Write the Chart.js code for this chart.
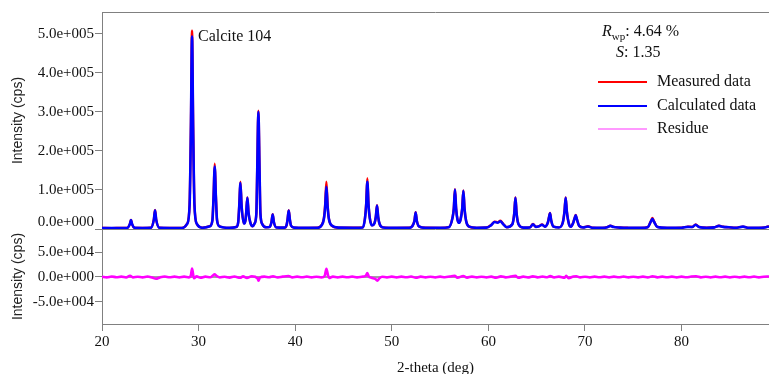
<!DOCTYPE html>
<html><head><meta charset="utf-8">
<script src="https://cdn.jsdelivr.net/npm/chart.js@4.4.1/dist/chart.umd.min.js"></script>
<style>html,body{margin:0;padding:0;background:#fff;}canvas{display:block;}</style>
</head><body>
<canvas id="c" width="769" height="374"></canvas>
<script>
// ---- Data ----
const twoTheta = [20.0,21.0,22.0,22.6,22.88,23.0,23.12,23.4,24.2,25.05,25.37,25.49,25.61,25.95,27.0,28.3,28.82,29.07,29.2,29.32,29.44,29.57,29.82,30.4,31.17,31.43,31.55,31.67,31.79,31.91,32.17,33.2,33.9,34.1,34.21,34.33,34.45,34.69,34.85,34.93,35.05,35.17,35.35,35.6,35.8,35.98,36.07,36.19,36.31,36.4,36.6,37.0,37.35,37.55,37.67,37.79,38.05,38.9,39.1,39.21,39.33,39.45,39.56,39.9,41.0,42.3,42.75,42.98,43.1,43.23,43.36,43.48,43.75,44.5,46.0,47.0,47.23,47.35,47.47,47.59,47.72,47.95,48.2,48.35,48.47,48.59,48.75,49.1,50.5,51.8,52.12,52.35,52.47,52.59,52.82,53.5,55.0,55.9,56.3,56.42,56.54,56.66,56.8,56.97,57.12,57.29,57.41,57.53,57.7,58.0,58.8,59.8,60.3,60.65,60.95,61.24,61.55,61.9,62.48,62.68,62.8,62.92,63.12,63.6,64.3,64.62,64.9,65.25,65.55,65.85,66.15,66.26,66.38,66.5,66.75,67.3,67.7,67.88,68.0,68.12,68.35,68.55,68.8,68.92,69.04,69.16,69.4,69.8,70.31,70.8,71.8,72.3,72.63,72.95,73.6,74.5,75.8,76.5,76.8,76.98,77.16,77.5,78.5,80.0,80.66,81.1,81.46,81.8,82.6,83.4,83.87,84.3,84.9,85.6,86.36,86.9,88.0,88.6,89.05];
const calculated = [2500,2400,2500,2600,12000,23000,12000,2800,2600,3000,24000,48000,24000,3000,2700,2700,13000,62000,250000,493000,250000,62000,13000,3200,7000,22000,82000,160000,82000,22000,6500,3000,5000,17000,60000,118000,60000,14000,22000,42000,80000,42000,17000,7000,14000,40000,150000,300000,150000,40000,12000,4500,5000,18000,37000,18000,4000,3500,9000,24000,47000,24000,9000,3500,3000,3000,10000,27000,56000,108000,56000,27000,9500,3500,3200,4000,28000,62000,121000,62000,28000,9000,14000,31000,60000,31000,12000,4000,3000,3000,7000,21000,42000,21000,6500,3000,3000,4500,30000,52000,101000,52000,24000,16000,24000,52000,98000,52000,20000,6000,3200,3500,10000,18000,16000,20000,12000,4500,12000,40000,80000,40000,12000,3500,4000,12000,5500,7000,11000,6000,16000,28000,40000,22000,6000,4000,16000,45000,80000,45000,12000,6000,17000,27000,35000,25000,8000,4000,6500,3000,2800,4500,8000,5000,3500,2800,2800,4500,18000,26000,18000,5000,2800,3000,5500,5000,11000,5000,3000,4200,8000,5500,4500,3000,6000,3000,2800,4000,6500];
const measured = [2600,2300,2700,2500,12500,23500,11500,3000,2400,3200,25000,49000,24000,3300,2500,2900,14000,64000,255000,508000,256000,63000,13000,3500,7500,23000,86000,167000,85000,23000,7000,2800,5200,17500,61000,121000,60000,14500,22000,43000,81000,42000,17000,7200,14500,41000,153000,303000,151000,40000,12500,4300,5200,18500,38000,18000,4200,3300,9500,24500,48000,24000,9000,3600,2800,3200,10500,29000,62000,121000,60000,28000,9500,3300,3400,4200,30000,66000,130000,64000,29000,9500,14500,32000,61000,30500,11500,4200,2900,3200,7300,22000,43000,21000,6500,3100,2800,4700,31000,53000,102000,52000,24000,16500,24500,52500,99000,51000,20000,6200,3000,3700,10500,19000,17000,21000,12500,4300,12500,41000,81000,40000,12000,3600,4200,13000,5600,7500,11500,6200,16500,28500,41000,22000,6000,4200,16500,45500,81000,45000,12000,6200,17500,27500,36000,25000,8000,4200,7000,3200,2600,4800,8500,5300,3800,3000,2600,4800,19000,28000,19000,5200,2700,3200,6000,5200,11500,5200,3200,4400,8500,5700,4300,3100,6200,2900,3000,4200,7000];
const residueTheta = [20.0,20.5,21.0,21.5,22.0,22.5,22.9,23.2,23.7,24.2,24.7,25.2,25.6,26.0,26.5,27.0,27.5,28.0,28.5,29.0,29.2,29.32,29.42,29.52,29.8,30.2,30.7,31.2,31.5,31.65,31.85,32.2,32.7,33.2,33.7,34.3,34.6,35.0,35.5,36.1,36.2,36.35,36.8,37.3,37.7,38.2,38.7,39.3,39.7,40.2,40.7,41.2,41.7,42.2,42.7,43.05,43.23,43.38,43.5,43.9,44.4,44.9,45.4,45.9,46.4,46.9,47.3,47.47,47.6,47.9,48.3,48.5,48.7,49.0,49.5,50.0,50.5,51.0,51.5,52.0,52.5,53.0,53.5,54.0,54.5,55.0,55.5,56.0,56.5,56.8,57.4,57.8,58.3,58.8,59.3,59.8,60.3,60.8,61.3,61.8,62.3,62.8,63.1,63.6,64.1,64.6,65.1,65.6,66.1,66.4,66.8,67.3,67.9,68.05,68.3,68.8,69.1,69.5,70.0,70.5,71.0,71.5,72.0,72.5,73.0,73.5,74.0,74.5,75.0,75.5,76.0,76.5,77.0,77.5,78.0,78.5,79.0,79.5,80.0,80.5,81.0,81.5,82.0,82.5,83.0,83.5,84.0,84.5,85.0,85.5,86.0,86.5,87.0,87.5,88.0,88.5,89.05];
const residue = [500,-800,1000,-500,800,-1000,2500,-800,600,-700,900,-1200,-3500,-800,1000,-600,700,-900,800,-1000,3000,17000,7000,-2500,1200,-1500,800,-600,3500,5500,2500,-900,600,-1200,900,-1500,1200,-1800,1500,-2500,-7500,-1000,800,-600,1500,-900,700,2000,-800,700,-600,900,-700,600,-900,2000,16500,5000,-2000,800,-900,700,-600,900,-800,600,2500,8000,1500,-1500,-4000,-7500,-3000,500,-900,800,-1000,700,-600,900,-1500,700,-800,600,-900,800,-600,900,2500,-1500,2000,-1200,700,-800,600,-900,800,-1500,1200,-700,800,2200,-1500,700,-900,1200,-700,900,-600,1800,-900,700,-1500,2500,-2200,800,1500,-800,600,-900,700,-600,800,-900,700,-600,900,-700,600,-800,700,-900,1500,-800,700,-600,800,-900,700,-600,900,1400,-700,600,-900,800,-600,700,-900,600,-700,800,-600,900,-700,600,1000];
const xTickValues = [20,30,40,50,60,70,80];
const topTickValues = [0,100000,200000,300000,400000,500000];
const bottomTickValues = [-50000,0,50000];
const legendLabels = ['Measured data','Calculated data','Residue'];

const AXIS = '#808080';
const SERIF = '"Liberation Serif","Times New Roman",serif';
const SANS = '"Liberation Sans",Arial,sans-serif';

function sci(v){
  if (v === 0) return '0.0e+000';
  const s = v < 0 ? '-' : '';
  const a = Math.abs(v);
  const e = Math.floor(Math.log10(a) + 1e-9);
  const m = a / Math.pow(10, e);
  return s + m.toFixed(1) + 'e+' + String(e).padStart(3, '0');
}
const pts = (xs, ys) => xs.map((x, i) => ({x, y: ys[i]}));

const panelPlugin = {
  id: 'panels',
  beforeDatasetsDraw(chart){
    const {ctx, chartArea} = chart;
    const yt = chart.scales.yTop;
    ctx.save();
    ctx.strokeStyle = AXIS; ctx.lineWidth = 1;
    ctx.beginPath();
    ctx.moveTo(chartArea.left, Math.round(yt.bottom) + 0.5);
    ctx.lineTo(chartArea.right, Math.round(yt.bottom) + 0.5);
    ctx.moveTo(chartArea.left, Math.round(chartArea.top) + 0.5);
    ctx.lineTo(chartArea.right, Math.round(chartArea.top) + 0.5);
    ctx.stroke();
    ctx.restore();
  },
  afterDraw(chart){
    const {ctx} = chart;
    const yt = chart.scales.yTop;
    const xs = chart.scales.x;
    ctx.save();
    ctx.fillStyle = '#111';
    ctx.font = '15px ' + SERIF;
    ctx.textAlign = 'right'; ctx.textBaseline = 'middle';
    ctx.fillText(sci(0), yt.right - 8, yt.getPixelForValue(0) - 7);
    ctx.font = '16px ' + SERIF;
    ctx.textAlign = 'left';
    ctx.fillText('Calcite 104', xs.getPixelForValue(29.32) + 6, yt.getPixelForValue(493000));
    const rx = 602, ry = 32;
    ctx.font = 'italic 16px ' + SERIF;
    ctx.fillText('R', rx, ry);
    let w = ctx.measureText('R').width;
    ctx.font = '11px ' + SERIF;
    ctx.fillText('wp', rx + w, ry + 5);
    w += ctx.measureText('wp').width;
    ctx.font = '16px ' + SERIF;
    ctx.fillText(': 4.64 %', rx + w, ry);
    ctx.font = 'italic 16px ' + SERIF;
    ctx.fillText('S', 616, 53);
    const ws = ctx.measureText('S').width;
    ctx.font = '16px ' + SERIF;
    ctx.fillText(': 1.35', 616 + ws, 53);
    const cols = ['#ff0000', '#0000ff', '#ff99ff'];
    const ys = [82, 106, 129];
    legendLabels.forEach((t, i) => {
      ctx.strokeStyle = cols[i]; ctx.lineWidth = 2;
      ctx.beginPath(); ctx.moveTo(598, ys[i]); ctx.lineTo(647, ys[i]); ctx.stroke();
      ctx.fillStyle = '#111';
      ctx.fillText(t, 657, ys[i]);
    });
    ctx.restore();
  }
};

const yCommon = {
  type: 'linear', position: 'left', stack: 'panels',
  border: {display: true, color: AXIS, width: 1},
  grid: {display: true, drawOnChartArea: false, drawTicks: true, tickLength: 7, color: AXIS},
  title: {display: true, text: 'Intensity (cps)', color: '#222', font: {family: SANS, size: 14}, padding: {top: 10, bottom: 0}},
  afterFit(s){ s.width = 102; }
};

new Chart(document.getElementById('c'), {
  type: 'line',
  data: {
    datasets: [
      {label: 'Calculated data', data: pts(twoTheta, calculated), xAxisID: 'x', yAxisID: 'yTop', borderColor: '#0000ff', borderWidth: 2.6, pointRadius: 0, cubicInterpolationMode: 'monotone'},
      {label: 'Measured data', data: pts(twoTheta, measured), xAxisID: 'x', yAxisID: 'yTop', borderColor: '#ff0000', borderWidth: 2.4, pointRadius: 0, cubicInterpolationMode: 'monotone'},
      {label: 'Residue', data: pts(residueTheta, residue), xAxisID: 'x', yAxisID: 'yBot', borderColor: '#ff00ff', borderWidth: 2.6, pointRadius: 0, cubicInterpolationMode: 'monotone'},
      {label: 'zero', data: pts([twoTheta[0], twoTheta[twoTheta.length-1]], [0, 0]), xAxisID: 'x', yAxisID: 'yBot', borderColor: '#a0a0a0', borderWidth: 2, pointRadius: 0}
    ]
  },
  options: {
    responsive: false, animation: false, devicePixelRatio: 1,
    layout: {padding: {top: 12, right: 0, left: 0, bottom: 0}},
    plugins: {legend: {display: false}, tooltip: {enabled: false}},
    scales: {
      x: {
        type: 'linear', position: 'bottom', min: 20, max: 89.05,
        border: {display: true, color: AXIS, width: 1},
        grid: {display: true, drawOnChartArea: false, drawTicks: true, tickLength: 7, color: AXIS},
        afterBuildTicks(s){ s.ticks = xTickValues.map(v => ({value: v})); },
        afterFit(s){ s.height = 50; },
        ticks: {color: '#111', font: {family: SERIF, size: 15}, padding: 2, maxRotation: 0, callback: v => String(v)},
        title: {display: true, text: '2-theta (deg)', color: '#111', font: {family: SERIF, size: 15, lineHeight: 0.8}, padding: {top: 0, bottom: 0}}
      },
      yBot: Object.assign({}, yCommon, {
        stackWeight: 95, min: -95000, max: 97000,
        afterBuildTicks(s){ s.ticks = bottomTickValues.map(v => ({value: v})); },
        ticks: {color: '#111', font: {family: SERIF, size: 15}, padding: 1, callback: v => sci(v)}
      }),
      yTop: Object.assign({}, yCommon, {
        stackWeight: 217, min: 0, max: 556000,
        afterBuildTicks(s){ s.ticks = topTickValues.map(v => ({value: v})); },
        ticks: {color: '#111', font: {family: SERIF, size: 15}, padding: 1, callback: v => v === 0 ? '' : sci(v)}
      })
    }
  },
  plugins: [panelPlugin]
});
</script>
</body></html>
